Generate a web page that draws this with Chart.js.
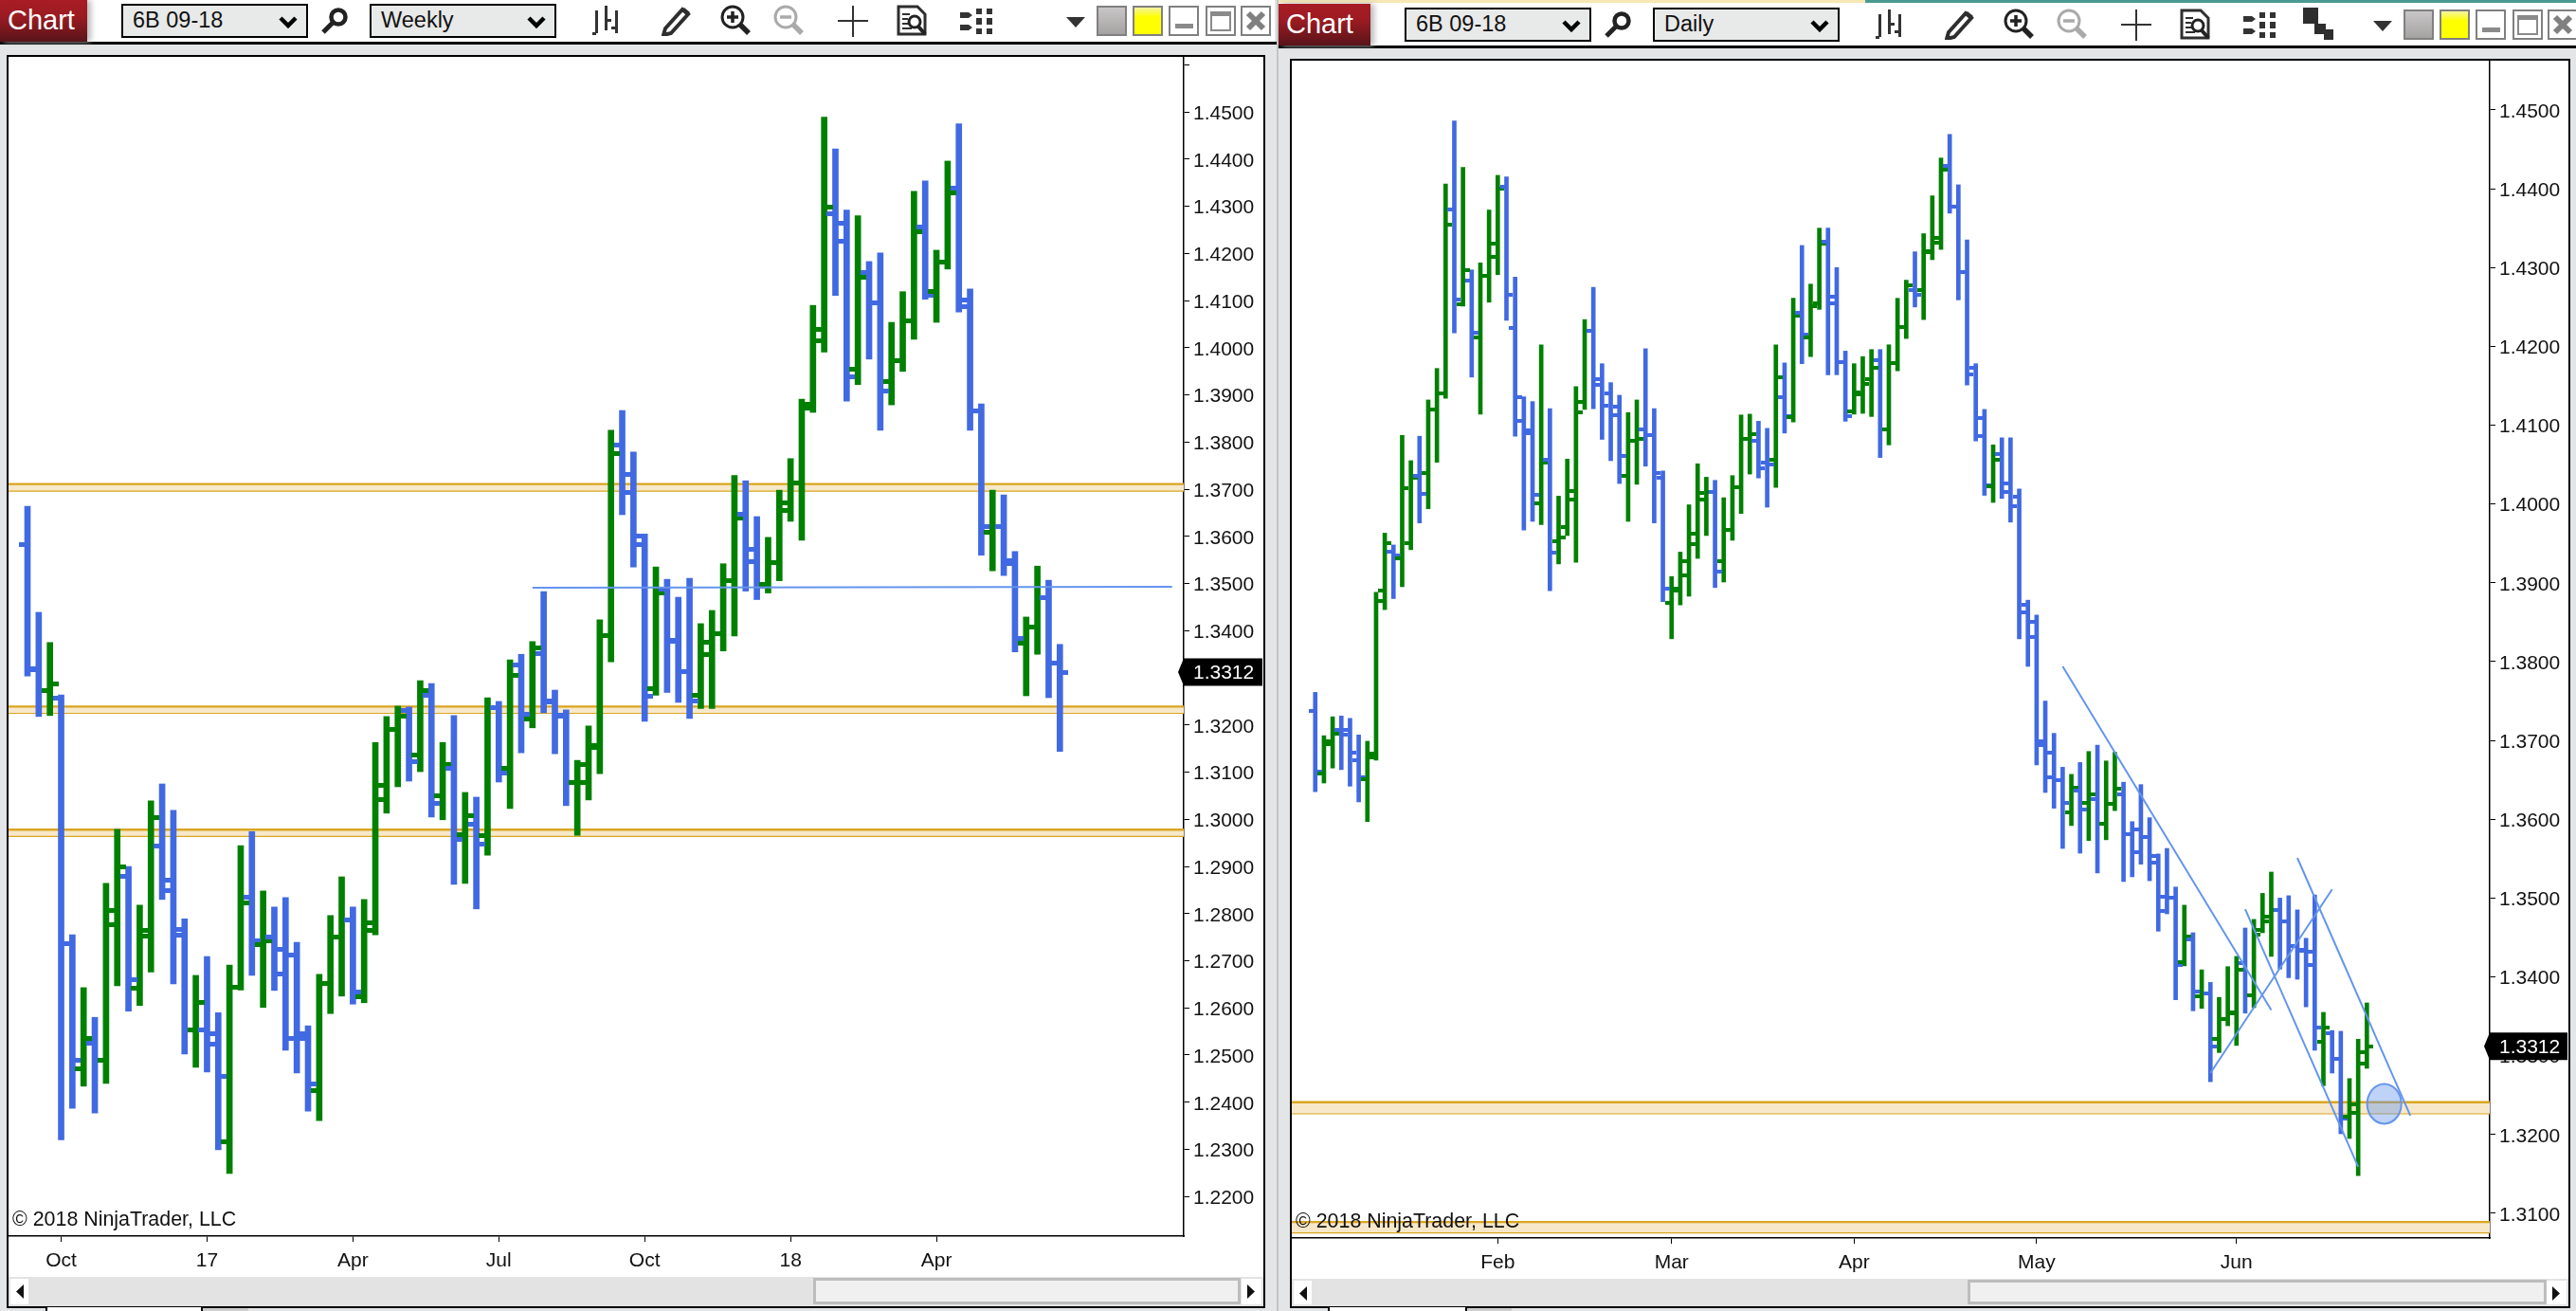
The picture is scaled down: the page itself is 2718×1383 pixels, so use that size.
<!DOCTYPE html>
<html>
<head>
<meta charset="utf-8">
<title>6B 09-18</title>
<script src="https://cdn.jsdelivr.net/npm/chart.js@4/dist/chart.umd.min.js"></script>
<style>
html, body { margin: 0; padding: 0; width: 2718px; height: 1383px; overflow: hidden; background: #e4e5e7; font-family: "Liberation Sans", Arial, sans-serif; }
#page div, #page svg, #page canvas { position: absolute; }
</style>
</head>
<body>
<div id="page"></div>
<script>
// weekly panel
var weeklyOpen = [
1.3582,1.3318,1.3274,1.3257,1.2737,1.2470,1.2526,1.2488,1.2777,1.2879,
1.2641,1.2752,1.2944,1.2849,1.2755,1.2554,1.2553,1.2524,1.2317,1.2643,
1.2834,1.2734,1.2751,1.2724,1.2712,1.2535,1.2425,1.2651,1.2751,1.2787,
1.2623,1.2781,1.3042,1.3191,1.3230,1.3137,1.3263,1.3049,1.3108,1.2968,
1.2990,1.2965,1.3237,1.3108,1.3327,1.3212,1.3352,1.3248,1.3218,1.3078,
1.3078,1.3153,1.3389,1.3793,1.3731,1.3600,1.3277,1.3489,1.3377,1.3314,
1.3262,1.3349,1.3394,1.3506,1.3647,1.3572,1.3498,1.3545,1.3655,1.3714,
1.3881,1.4014,1.4284,1.4265,1.3954,1.4160,1.4095,1.3928,1.3973,1.4058,
1.4257,1.4120,1.4182,1.4338,1.4101,1.3867,1.3609,1.3620,1.3548,1.3373,
1.3408,1.3471,1.3332];
var weeklyHigh = [
1.3664,1.3439,1.3375,1.3264,1.2755,1.2643,1.2580,1.2864,1.2979,1.2900,
1.2818,1.3039,1.3075,1.3019,1.2789,1.2669,1.2709,1.2590,1.2691,1.2944,
1.2974,1.2848,1.2814,1.2834,1.2739,1.2562,1.2671,1.2796,1.2878,1.2814,
1.2830,1.3163,1.3218,1.3240,1.3238,1.3294,1.3288,1.3163,1.3220,1.3057,
1.3047,1.3258,1.3250,1.3338,1.3350,1.3377,1.3483,1.3274,1.3232,1.3125,
1.3198,1.3423,1.3825,1.3867,1.3779,1.3605,1.3535,1.3509,1.3471,1.3511,
1.3415,1.3443,1.3542,1.3729,1.3718,1.3642,1.3598,1.3698,1.3765,1.3891,
1.4090,1.4489,1.4422,1.4292,1.4280,1.4183,1.4201,1.4054,1.4119,1.4332,
1.4354,1.4207,1.4396,1.4475,1.4125,1.3881,1.3698,1.3688,1.3568,1.3429,
1.3537,1.3507,1.3371];
var weeklyLow = [
1.3304,1.3218,1.3220,1.2320,1.2387,1.2434,1.2377,1.2440,1.2647,1.2593,
1.2605,1.2676,1.2830,1.2651,1.2502,1.2474,1.2464,1.2299,1.2249,1.2638,
1.2669,1.2601,1.2637,1.2510,1.2462,1.2381,1.2361,1.2588,1.2625,1.2608,
1.2611,1.2755,1.3013,1.3069,1.3081,1.3101,1.3005,1.2999,1.2862,1.2864,
1.2810,1.2924,1.3079,1.3023,1.3141,1.3194,1.3226,1.3139,1.3029,1.2966,
1.3041,1.3097,1.3334,1.3646,1.3535,1.3208,1.3263,1.3269,1.3248,1.3214,
1.3235,1.3235,1.3357,1.3389,1.3484,1.3466,1.3480,1.3506,1.3632,1.3592,
1.3863,1.3991,1.4111,1.3887,1.3922,1.3976,1.3825,1.3879,1.3950,1.4018,
1.4103,1.4054,1.4167,1.4076,1.3825,1.3560,1.3527,1.3517,1.3355,1.3262,
1.3350,1.3258,1.3144];
var weeklyClose = [
1.3319,1.3273,1.3288,1.2737,1.2488,1.2535,1.2489,1.2806,1.2900,1.2660,
1.2765,1.3003,1.2870,1.2767,1.2554,1.2611,1.2546,1.2454,1.2643,1.2822,
1.2743,1.2742,1.2671,1.2535,1.2546,1.2438,1.2651,1.2751,1.2787,1.2633,
1.2765,1.3071,1.3191,1.3218,1.3123,1.3274,1.3034,1.3116,1.2958,1.3007,
1.2947,1.3237,1.3099,1.3305,1.3223,1.3363,1.3250,1.3220,1.3079,1.3116,
1.3156,1.3389,1.3775,1.3694,1.3582,1.3260,1.3481,1.3379,1.3314,1.3251,
1.3375,1.3394,1.3506,1.3639,1.3546,1.3495,1.3545,1.3672,1.3714,1.3873,
1.4038,1.4299,1.4225,1.3938,1.4150,1.4095,1.3908,1.3973,1.4058,1.4247,
1.4111,1.4182,1.4329,1.4088,1.3867,1.3620,1.3620,1.3542,1.3384,1.3408,
1.3471,1.3332,1.3312];
var weeklyTickPos = [3, 16, 29, 42, 55, 68, 81];
var weeklyTickLabels = ['Oct', '17', 'Apr', 'Jul', 'Oct', '18', 'Apr'];
var weeklyPrices = [1.46,1.45,1.44,1.43,1.42,1.41,1.40,1.39,1.38,1.37,1.36,1.35,1.34,1.33,1.32,1.31,1.30,1.29,1.28,1.27,1.26,1.25,1.24,1.23,1.22];
var weeklyBands = [[1.3711, 1.3697], [1.3239, 1.3226], [1.2978, 1.2965]];
var weeklyLines = [[45, 1.3491, 102, 1.3493]];

// daily panel
var dailyOpen = [
1.3737,1.3658,1.3695,1.3713,1.3713,1.3675,1.3651,1.3679,1.3890,1.3939,
1.3931,1.3950,1.4036,1.4039,1.4120,1.4140,1.4374,1.4253,1.4284,1.4211,
1.4289,1.4313,1.4403,1.4223,1.4105,1.4090,1.4001,1.4056,1.3953,1.3971,
1.4006,1.4130,1.4220,1.4151,1.4140,1.4123,1.4036,1.4080,1.4095,1.4088,
1.4033,1.3874,1.3890,1.3909,1.3949,1.4006,1.4015,1.3927,1.3967,1.4021,
1.4083,1.4080,1.4052,1.4056,1.4136,1.4110,1.4243,1.4211,1.4255,1.4333,
1.4255,1.4180,1.4117,1.4139,1.4158,1.4182,1.4095,1.4179,1.4225,1.4271,
1.4271,1.4319,1.4338,1.4429,1.4377,1.4294,1.4173,1.4109,1.4023,1.4063,
1.4026,1.4009,1.3872,1.3851,1.3699,1.3685,1.3650,1.3609,1.3636,1.3621,
1.3626,1.3594,1.3620,1.3632,1.3581,1.3587,1.3578,1.3545,1.3502,1.3501,
1.3419,1.3447,1.3375,1.3379,1.3321,1.3347,1.3355,1.3417,1.3376,1.3459,
1.3477,1.3485,1.3471,1.3439,1.3434,1.3415,1.3318,1.3328,1.3296,1.3223,
1.3227,1.3290];
var dailyHigh = [
1.3761,1.3706,1.3730,1.3731,1.3728,1.3707,1.3699,1.3888,1.3963,1.3948,
1.4087,1.4055,1.4086,1.4132,1.4172,1.4406,1.4486,1.4427,1.4297,1.4306,
1.4373,1.4417,1.4415,1.4288,1.4136,1.4130,1.4202,1.4121,1.4010,1.4057,
1.4149,1.4234,1.4275,1.4178,1.4154,1.4138,1.4116,1.4132,1.4197,1.4121,
1.4042,1.3908,1.3939,1.3999,1.4051,1.4034,1.4030,1.4008,1.4036,1.4113,
1.4114,1.4105,1.4096,1.4202,1.4179,1.4261,1.4328,1.4279,1.4350,1.4350,
1.4300,1.4194,1.4178,1.4187,1.4196,1.4196,1.4202,1.4261,1.4284,1.4320,
1.4343,1.4391,1.4439,1.4469,1.4405,1.4335,1.4178,1.4120,1.4075,1.4084,
1.4084,1.4019,1.3878,1.3859,1.3750,1.3709,1.3666,1.3657,1.3672,1.3686,
1.3694,1.3674,1.3685,1.3647,1.3597,1.3644,1.3602,1.3556,1.3563,1.3514,
1.3491,1.3456,1.3409,1.3393,1.3374,1.3413,1.3426,1.3462,1.3473,1.3506,
1.3533,1.3500,1.3503,1.3485,1.3449,1.3504,1.3355,1.3332,1.3331,1.3271,
1.3321,1.3367];
var dailyLow = [
1.3635,1.3646,1.3665,1.3663,1.3642,1.3622,1.3597,1.3675,1.3866,1.3880,
1.3895,1.3942,1.3976,1.3994,1.4053,1.4134,1.4217,1.4251,1.4161,1.4114,
1.4256,1.4291,1.4233,1.4086,1.3967,1.3978,1.3974,1.3890,1.3924,1.3960,
1.3926,1.4120,1.4121,1.4082,1.4055,1.4026,1.3978,1.4025,1.4048,1.3976,
1.3876,1.3829,1.3872,1.3883,1.3931,1.3960,1.3894,1.3901,1.3954,1.3988,
1.4038,1.4033,1.3996,1.4021,1.4090,1.4104,1.4178,1.4187,1.4247,1.4164,
1.4164,1.4105,1.4114,1.4115,1.4111,1.4059,1.4075,1.4169,1.4210,1.4250,
1.4234,1.4310,1.4323,1.4369,1.4259,1.4151,1.4080,1.4011,1.4002,1.4007,
1.3977,1.3829,1.3794,1.3669,1.3634,1.3614,1.3563,1.3592,1.3557,1.3573,
1.3532,1.3574,1.3611,1.3521,1.3527,1.3543,1.3522,1.3458,1.3480,1.3371,
1.3414,1.3357,1.3360,1.3267,1.3304,1.3338,1.3313,1.3354,1.3361,1.3456,
1.3426,1.3410,1.3399,1.3397,1.3362,1.3307,1.3262,1.3278,1.3201,1.3195,
1.3148,1.3284];
var dailyClose = [
1.3661,1.3699,1.3709,1.3707,1.3685,1.3653,1.3683,1.3877,1.3950,1.3935,
1.4020,1.4033,1.4013,1.4120,1.4140,1.4355,1.4259,1.4297,1.4217,1.4289,
1.4330,1.4400,1.4265,1.4136,1.4093,1.4012,1.4052,1.3938,1.3957,1.4017,
1.4116,1.4220,1.4158,1.4125,1.4113,1.4061,1.4080,1.4083,1.4088,1.4039,
1.3892,1.3892,1.3927,1.3962,1.4014,1.4015,1.3914,1.3967,1.4021,1.4083,
1.4089,1.4045,1.4050,1.4161,1.4111,1.4239,1.4215,1.4251,1.4330,1.4263,
1.4180,1.4111,1.4142,1.4152,1.4173,1.4095,1.4179,1.4225,1.4277,1.4265,
1.4321,1.4331,1.4424,1.4377,1.4294,1.4164,1.4086,1.4024,1.4056,1.4015,
1.3997,1.3863,1.3831,1.3694,1.3653,1.3650,1.3621,1.3640,1.3612,1.3632,
1.3594,1.3620,1.3639,1.3581,1.3558,1.3578,1.3554,1.3484,1.3500,1.3415,
1.3451,1.3381,1.3379,1.3312,1.3347,1.3354,1.3409,1.3376,1.3454,1.3470,
1.3485,1.3471,1.3439,1.3433,1.3432,1.3336,1.3336,1.3296,1.3220,1.3238,
1.3304,1.3312];
var dailyTickPos = [21, 41, 62, 83, 106];
var dailyTickLabels = ['Feb', 'Mar', 'Apr', 'May', 'Jun'];
var dailyPrices = [1.45,1.44,1.43,1.42,1.41,1.40,1.39,1.38,1.37,1.36,1.35,1.34,1.33,1.32,1.31];
var dailyBands = [[1.3241, 1.3227], [1.3089, 1.3076]];
var dailyLines = [[86, 1.3794, 110, 1.3358], [107, 1.3486, 120, 1.3159], [113, 1.3551, 126, 1.3224], [103, 1.3278, 117, 1.3511]];
var dailyCircle = [123, 1.3239];
var lastPrice = 1.3312;

var GREEN = '#008000', BLUE = '#4169e1', TREND = '#6495ed', GOLD = '#daa520', BAND = '#f7e8ca';
var FONT = '"Liberation Sans", Arial, sans-serif';
var page = document.getElementById('page');

function box(x, y, w, h, css, html) {
    var d = document.createElement('div');
    d.style.cssText = 'left:' + x + 'px;top:' + y + 'px;width:' + w + 'px;height:' + h + 'px;' + (css || '');
    if (html) d.innerHTML = html;
    page.appendChild(d);
    return d;
}

function icon(x, y, w, h, inner) {
    box(x, y, w, h, '', '<svg width="' + w + '" height="' + h + '" viewBox="0 0 ' + w + ' ' + h + '">' + inner + '</svg>');
}

function select(x, y, w, label) {
    box(x, y, w, 36, 'box-sizing:border-box;border:2.5px solid #000;background:#e8e9e9;');
    box(x + 12, y + 2, w - 40, 30, 'font-size:23.5px;line-height:30px;color:#111;', label);
    icon(x + w - 31, y + 13, 20, 13, '<polyline points="2,2 10,10 18,2" fill="none" stroke="#000" stroke-width="4.5"/>');
}

function magnifier(x, y) {
    icon(x, y, 30, 28, '<circle cx="19" cy="10" r="7.5" fill="none" stroke="#222" stroke-width="4.5"/><line x1="13" y1="16" x2="3" y2="26" stroke="#222" stroke-width="5"/>');
}

function toolbar(dx, dy, rightDx, btnX, btnW, btnY, period) {
    box(btnX, btnY, btnW, 44, 'background:linear-gradient(#a81c25,#9b1b22 40%,#58141a);box-shadow:4px 0 6px #bbb;');
    box(btnX + 8, btnY, btnW, 44, 'color:#fff;font-size:29px;line-height:42px;', 'Chart');
    select(128 + dx, 4 + dy, 197, '6B 09-18');
    magnifier(338 + dx, 8 + dy);
    select(390 + dx, 4 + dy, 197, period);
    // bar style icon
    icon(625 + dx, 6 + dy, 30, 31, '<path d="M3 5h3v24h-3zM13 0h3v26h-3zM24 5h3v24h-3z" fill="#333"/><path d="M0 28h4v3h-4zM16 14h4v3h-4zM20 22h4v3h-4z" fill="#333"/>');
    // pencil
    icon(698 + dx, 6 + dy, 33, 32, '<path d="M4 24L22 4l6 5L10 29l-8 2z" fill="#fff" stroke="#2e2e2e" stroke-width="4"/><path d="M21 5l3-3 6 5-3 3z" fill="#2e2e2e"/>');
    // zoom in, zoom out
    icon(760 + dx, 5 + dy, 33, 33, '<circle cx="13" cy="13" r="11" fill="none" stroke="#222" stroke-width="3"/><path d="M7 13h12M13 7v12" stroke="#222" stroke-width="3.5"/><line x1="21" y1="21" x2="30" y2="30" stroke="#222" stroke-width="5.5"/>');
    icon(816 + dx, 5 + dy, 33, 33, '<circle cx="13" cy="13" r="11" fill="none" stroke="#aaa" stroke-width="3"/><path d="M7 13h12" stroke="#aaa" stroke-width="3.5"/><line x1="21" y1="21" x2="30" y2="30" stroke="#aaa" stroke-width="5.5"/>');
    // crosshair
    icon(884 + dx, 6 + dy, 32, 33, '<path d="M0 16h32M16 0v33" stroke="#333" stroke-width="2"/>');
    // data box
    icon(946 + dx, 5 + dy, 33, 33, '<path d="M2 2h20l8 8v21h-28z" fill="#fff" stroke="#2e2e2e" stroke-width="3"/><path d="M6 10h8M6 15h6M6 20h6M6 25h10" stroke="#2e2e2e" stroke-width="2"/><circle cx="19" cy="18" r="6" fill="none" stroke="#222" stroke-width="3"/><line x1="23" y1="23" x2="30" y2="31" stroke="#222" stroke-width="4"/>');
    // properties
    icon(1013 + dx, 9 + dy, 34, 27, '<path d="M0 4h9l4 3-4 3h-9zM0 17h9l4 3-4 3h-9z" fill="#333"/><path d="M17 0h6v6h-6zM28 0h6v6h-6zM17 10h6v7h-6zM28 10h6v7h-6zM17 21h6v6h-6zM28 21h6v6h-6z" fill="#333"/>');
    // window controls
    icon(1125 + rightDx, 18 + dy, 20, 11, '<path d="M0 0h20l-10 11z" fill="#333"/>');
    box(1157 + rightDx, 6 + dy, 32, 32, 'box-sizing:border-box;border:2px solid #808080;background:linear-gradient(#c8c6c6,#a5a2a2);');
    box(1195 + rightDx, 6 + dy, 32, 32, 'box-sizing:border-box;border:2px solid #808080;background:linear-gradient(#f4f4a0,#ffff00 35%);');
    box(1233 + rightDx, 6 + dy, 32, 32, 'box-sizing:border-box;border:2px solid #808080;background:#fff;');
    box(1240 + rightDx, 25 + dy, 19, 5, 'background:#8a8a8a;');
    box(1272 + rightDx, 6 + dy, 32, 32, 'box-sizing:border-box;border:2px solid #808080;background:#fff;');
    box(1277 + rightDx, 12 + dy, 22, 21, 'box-sizing:border-box;border:2px solid #8a8a8a;border-top-width:5px;background:#fff;');
    box(1309 + rightDx, 6 + dy, 32, 32, 'box-sizing:border-box;border:2px solid #808080;background:#fff;');
    icon(1313 + rightDx, 10 + dy, 24, 24, '<path d="M4 4l16 16M20 4l-16 16" stroke="#808080" stroke-width="6"/>');
}

function scrollbar(x, y, w, h, thumbX, thumbW) {
    box(x, y, w, h, 'background:#e3e3e3;');
    box(x + 2, y + 2, 19, h - 4, 'background:#fff;');
    icon(x + 7, y + 8, 9, 15, '<path d="M9 0v15l-8-7.5z" fill="#111"/>');
    box(thumbX, y + 1, thumbW, h - 3, 'box-sizing:border-box;border:3px solid #bdbdbd;background:#f0f0f0;');
    box(x + w - 23, y + 2, 21, h - 4, 'background:#fff;');
    icon(x + w - 17, y + 8, 9, 15, '<path d="M0 0v15l8-7.5z" fill="#111"/>');
}

// window furniture, left then right
box(0, 0, 1345, 44, 'background:#fff;');
box(0, 44, 1347, 2.5, 'background:#000;');
box(7, 58, 1328, 1322, 'box-sizing:border-box;border:2.5px solid #000;background:#fff;');
box(48, 1379, 166, 4, 'box-sizing:border-box;border-left:2.5px solid #000;border-right:2.5px solid #000;background:#fff;');
box(214, 1380, 48, 3, 'background:#ccc;');
toolbar(0, 0, 0, 0, 92, 0, 'Weekly');
scrollbar(9, 1347, 1324, 31, 858, 451);

box(1347, 0, 1.5, 1383, 'background:#c4c4c4;');
box(1349, 0, 619, 3, 'background:#f6e7b4;');
box(1968, 0, 750, 3, 'background:#4a9a92;');
box(1349, 3, 1369, 45, 'background:#fff;');
box(1349, 48, 1369, 2.5, 'background:#000;');
box(1361, 62, 1351, 1318, 'box-sizing:border-box;border:2.5px solid #000;background:#fff;');
box(1401, 1379, 147, 4, 'box-sizing:border-box;border-left:2.5px solid #000;border-right:2.5px solid #000;background:#fff;');
box(1548, 1380, 47, 3, 'background:#ccc;');
toolbar(1354, 4, 1379, 1349, 97, 4, 'Daily');
icon(2430, 8, 32, 34, '<path d="M0 0h16v17h-16zM12 17h12v11h-12zM22 23h10v11h-10z" fill="#2e2e2e"/>');
scrollbar(1363, 1349, 1347, 29, 2076, 611);

function makeTick(color, w, h) {
    var c = document.createElement('canvas');
    c.width = w;
    c.height = h;
    var g = c.getContext('2d');
    g.fillStyle = color;
    g.fillRect(0, 0, w, h);
    return c;
}

function fixAxis(width, height) {
    return function (ax) {
        if (width) ax.width = width;
        if (height) ax.height = height;
        ax.paddingTop = ax.paddingBottom = ax.paddingLeft = ax.paddingRight = 0;
    };
}

// last price flag on the axis
var priceFlag = {
    id: 'priceFlag',
    afterDraw: function (chart) {
        var y = chart.scales.y, g = chart.ctx, py = y.getPixelForValue(lastPrice);
        var right = chart.width - 1, left = y.left;
        g.save();
        g.fillStyle = '#000';
        g.beginPath();
        g.moveTo(left - 6, py);
        g.lineTo(left, py - 14.5);
        g.lineTo(right, py - 14.5);
        g.lineTo(right, py + 14.5);
        g.lineTo(left, py + 14.5);
        g.closePath();
        g.fill();
        g.fillStyle = '#fff';
        g.font = '21px ' + FONT;
        g.textBaseline = 'middle';
        g.fillText(lastPrice.toFixed(4), left + 10, py + 1);
        g.restore();
    }
};

// the drawn ellipse on the daily chart
var circleMark = {
    id: 'circleMark',
    afterDatasetsDraw: function (chart) {
        var g = chart.ctx;
        g.save();
        g.beginPath();
        g.ellipse(chart.scales.x.getPixelForValue(dailyCircle[0]), chart.scales.y.getPixelForValue(dailyCircle[1]), 18, 21, 0, 0, Math.PI * 2);
        g.fillStyle = 'rgba(100,149,237,0.42)';
        g.fill();
        g.strokeStyle = TREND;
        g.lineWidth = 2;
        g.stroke();
        g.restore();
    }
};

function makePanel(p) {
    var c = document.createElement('canvas');
    c.width = p.w;
    c.height = p.h;
    c.style.left = p.x + 'px';
    c.style.top = p.y + 'px';
    page.appendChild(c);

    var up = makeTick(GREEN, p.tickW, p.tickH), down = makeTick(BLUE, p.tickW, p.tickH);
    var n = p.open.length, stems = [], opens = [], closes = [], colors = [];
    for (var i = 0; i < n; i++) {
        stems.push({ x: i, y: [p.low[i], p.high[i]] });
        opens.push({ x: i - 0.38, y: p.open[i] });
        closes.push({ x: i + 0.38, y: p.close[i] });
        colors.push(p.close[i] >= p.open[i] ? GREEN : BLUE);
    }
    var tickStyle = function (ctx) { return colors[ctx.dataIndex] === GREEN ? up : down; };

    var datasets = [{
        type: 'bar', data: stems, backgroundColor: colors, barThickness: p.stem, borderWidth: 0, order: 3
    }, {
        type: 'scatter', data: opens, pointStyle: tickStyle, pointRadius: 1, order: 2
    }, {
        type: 'scatter', data: closes, pointStyle: tickStyle, pointRadius: 1, order: 2
    }];
    p.bands.forEach(function (b) {
        datasets.push({ type: 'line', data: [{ x: p.xMin, y: b[0] }, { x: p.xMax, y: b[0] }], borderColor: GOLD, borderWidth: 2.4, pointRadius: 0, fill: '+1', backgroundColor: BAND, order: 9 });
        datasets.push({ type: 'line', data: [{ x: p.xMin, y: b[1] }, { x: p.xMax, y: b[1] }], borderColor: GOLD, borderWidth: 2.4, pointRadius: 0, fill: false, order: 9 });
    });
    p.lines.forEach(function (l) {
        datasets.push({ type: 'line', data: [{ x: l[0], y: l[1] }, { x: l[2], y: l[3] }], borderColor: TREND, borderWidth: 2, pointRadius: 0, fill: false, order: 1 });
    });

    return new Chart(c.getContext('2d'), {
        type: 'bar',
        data: { datasets: datasets },
        plugins: p.plugins,
        options: {
            responsive: false,
            animation: false,
            layout: { padding: 0, autoPadding: false },
            plugins: { legend: { display: false }, tooltip: { enabled: false }, title: { display: false } },
            scales: {
                x: {
                    type: 'linear', min: p.xMin, max: p.xMax, offset: false,
                    afterBuildTicks: function (ax) { ax.ticks = p.tickPos.map(function (v) { return { value: v }; }); },
                    afterFit: fixAxis(0, p.axisH),
                    grid: { drawOnChartArea: false, drawTicks: true, tickLength: 6, color: '#000', offset: false },
                    border: { color: '#000', width: 1.5 },
                    ticks: {
                        autoSkip: false, maxRotation: 0, padding: 8, color: '#111',
                        font: { family: FONT, size: 21 },
                        callback: function (v, i) { return p.tickLabels[i]; }
                    }
                },
                y: {
                    type: 'linear', position: 'right', min: p.yMin, max: p.yMax,
                    afterBuildTicks: function (ax) { ax.ticks = p.prices.map(function (v) { return { value: v }; }); },
                    afterFit: fixAxis(p.axisW, 0),
                    grid: { drawOnChartArea: false, drawTicks: true, tickLength: 6, color: '#000' },
                    border: { color: '#000', width: 1.5 },
                    ticks: {
                        autoSkip: false, padding: 4, labelOffset: 2, color: '#111',
                        font: { family: FONT, size: 21 },
                        callback: function (v) { return v > p.yMax - 0.002 ? '' : v.toFixed(4); }
                    }
                }
            }
        }
    });
}

makePanel({
    x: 9, y: 60, w: 1324, h: 1287, axisW: 84, axisH: 43,
    open: weeklyOpen, high: weeklyHigh, low: weeklyLow, close: weeklyClose,
    tickPos: weeklyTickPos, tickLabels: weeklyTickLabels, prices: weeklyPrices,
    bands: weeklyBands, lines: weeklyLines, plugins: [priceFlag],
    xMin: -1.69, xMax: 103.04, yMin: 1.2116, yMax: 1.4617,
    stem: 6, tickW: 9, tickH: 5
});

makePanel({
    x: 1363, y: 64, w: 1347, h: 1285, axisW: 83, axisH: 43,
    open: dailyOpen, high: dailyHigh, low: dailyLow, close: dailyClose,
    tickPos: dailyTickPos, tickLabels: dailyTickLabels, prices: dailyPrices,
    bands: dailyBands, lines: dailyLines, plugins: [priceFlag, circleMark],
    xMin: -2.7, xMax: 135.14, yMin: 1.30687, yMax: 1.45625,
    stem: 4, tickW: 7, tickH: 4
});

box(13, 1273, 260, 26, 'font-size:21.4px;line-height:26px;color:#111;', '\u00a9 2018 NinjaTrader, LLC');
box(1367, 1275, 260, 26, 'font-size:21.4px;line-height:26px;color:#111;', '\u00a9 2018 NinjaTrader, LLC');
</script>
</body>
</html>
